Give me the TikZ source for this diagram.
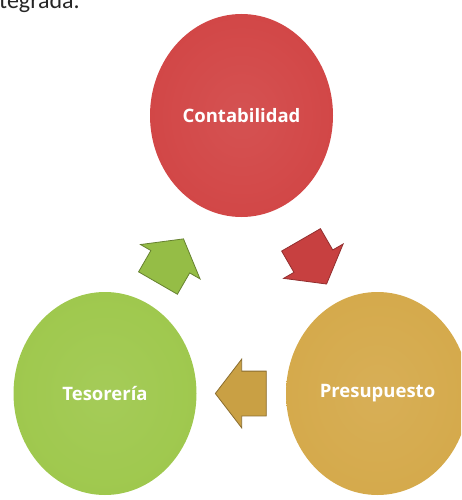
\documentclass[tikz,border=0pt]{standalone}
\usepackage{fontspec}
\setmainfont{Carlito}
\newfontfamily\discfont{Open Sans}
\usepackage{xcolor}
\usetikzlibrary{shapes.geometric, shapes.arrows, positioning, calc}

\definecolor{contabred}{RGB}{209,67,67}
\definecolor{presuporange}{RGB}{212,168,72}
\definecolor{tesorgreen}{RGB}{157,199,74}

\pgfdeclareradialshading[discin,discmid,discrim]{disc}{\pgfpointorigin}{color(0bp)=(discin); color(34bp)=(discmid); color(44bp)=(discmid); color(48bp)=(discrim); color(50bp)=(discrim)}

\tikzset{disc/.style={ellipse, minimum width=183pt, minimum height=203pt, inner sep=0pt,
    /utils/exec={\colorlet{discin}{#1!92!white}\colorlet{discmid}{#1}\colorlet{discrim}{#1!78!black}},
    shading=disc, text=white, font=\discfont\bfseries\fontsize{18.5}{22}\selectfont}}
\tikzstyle{cyclearrow} = [single arrow, minimum height=51pt, inner xsep=0pt, inner ysep=22pt,
    single arrow head extend=12pt, single arrow tip angle=105, line width=0.8pt]

\begin{document}
\begin{tikzpicture}[x=1pt, y=-1pt]
    \useasboundingbox (0,0) rectangle (461,500);
    \clip (0,0) rectangle (461,500);
    % Caption cut off at the top
    \node (caption) [anchor=base west, inner sep=0pt, text=black!85, font=\fontsize{24}{28}\selectfont] at (-1,9) {tegrada.};

    % Cycle nodes
    \node (contab) [disc=contabred] at (241.5,115.5) {Contabilidad};
    \node (presup) [disc=presuporange] at (377.5,393.5) {Presupuesto};
    \node (tesor) [disc=tesorgreen] at (105,393.5) {Tesorería};

    % Cycle arrows
    \node (contabpresup) [cyclearrow, fill=contabred!95!black, draw=contabred!70!black, rotate=-60] at ($(contab)!0.5!(presup)$) {};
    \node (presuptesor) [cyclearrow, fill=presuporange!95!black, draw=presuporange!65!black, rotate=180] at ($(presup)!0.47!(tesor)$) {};
    \node (tesorcontab) [cyclearrow, fill=tesorgreen!95!black, draw=tesorgreen!65!black, rotate=60] at ($(tesor)!0.45!(contab)$) {};
\end{tikzpicture}
\end{document}
